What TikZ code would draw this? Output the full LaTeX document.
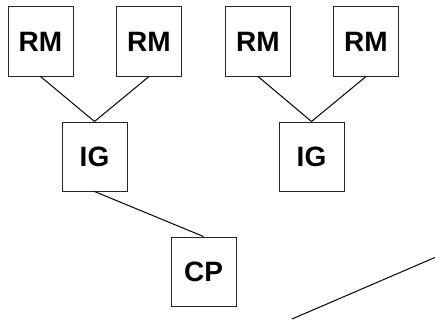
\documentclass[tikz,border=0pt]{standalone}
\usepackage{fontspec}
\setmainfont{Liberation Sans}
\begin{document}
\begin{tikzpicture}[x=1pt,y=-1pt,
  box/.style={draw=black!85,line width=1pt,minimum width=65pt,minimum height=69pt,inner sep=0pt,font=\fontsize{28}{30}\selectfont\bfseries},
  link/.style={draw=black,line width=1pt}]
\useasboundingbox (0,0) rectangle (435,321);
\node[box] (rm1) at (40.5,41.5) {RM};
\node[box] (rm2) at (149,41.5) {RM};
\node[box] (rm3) at (258,41.5) {RM};
\node[box] (rm4) at (366,41.5) {RM};
\node[box] (ig1) at (94.5,156.5) {IG};
\node[box] (ig2) at (311.5,156.5) {IG};
\node[box] (cp) at (203.5,271.5) {CP};
\draw[link] (rm1.south) -- (ig1.north);
\draw[link] (rm2.south) -- (ig1.north);
\draw[link] (rm3.south) -- (ig2.north);
\draw[link] (rm4.south) -- (ig2.north);
\draw[link] (ig1.south) -- (cp.north);
\coordinate (la) at (292,319);
\coordinate (lb) at (436,257);
\draw[link] (la) -- (lb);
\end{tikzpicture}
\end{document}
